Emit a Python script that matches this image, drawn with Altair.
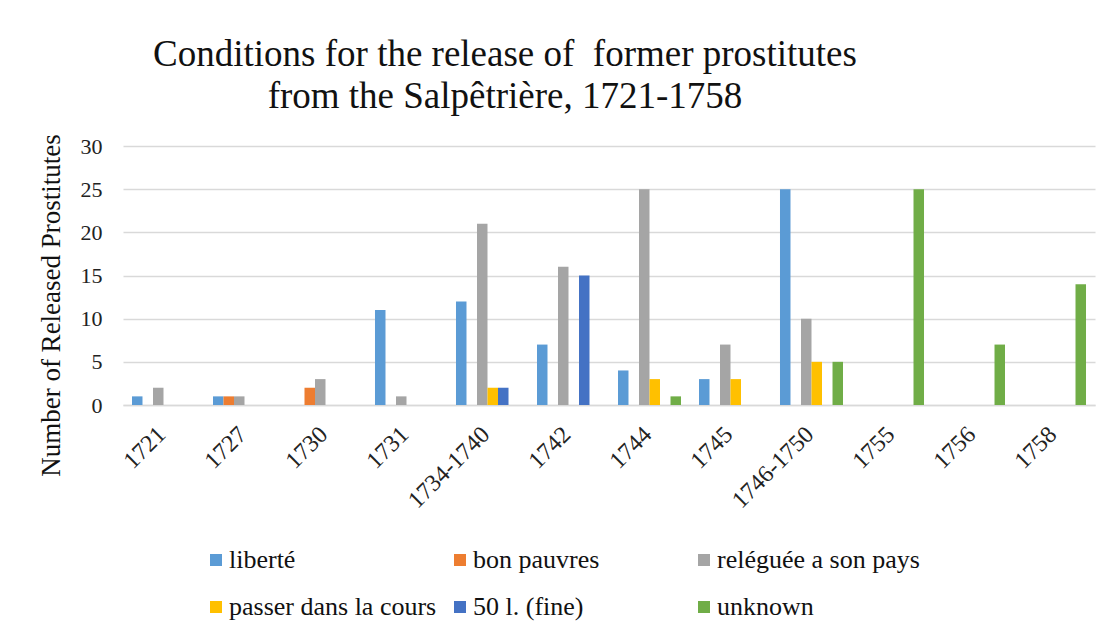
import altair as alt
import pandas as pd

categories = ["1721", "1727", "1730", "1731", "1734-1740", "1742", "1744",
              "1745", "1746-1750", "1755", "1756", "1758"]
series = ["liberté", "bon pauvres", "reléguée a son pays",
          "passer dans la cours", "50 l. (fine)", "unknown"]
colors = ["#5B9BD5", "#ED7D31", "#A5A5A5", "#FFC000", "#4472C4", "#70AD47"]

liberte =   [1, 1, 0, 11, 12, 7, 4, 3, 25, 0, 0, 0]
bon =       [0, 1, 2, 0, 0, 0, 0, 0, 0, 0, 0, 0]
releguee =  [2, 1, 3, 1, 21, 16, 25, 7, 10, 0, 0, 0]
passer =    [0, 0, 0, 0, 2, 0, 3, 3, 5, 0, 0, 0]
fine =      [0, 0, 0, 0, 2, 15, 0, 0, 0, 0, 0, 0]
unknown =   [0, 0, 0, 0, 0, 0, 1, 0, 5, 25, 7, 14]

values = [liberte, bon, releguee, passer, fine, unknown]
rows = []
for s, vals in zip(series, values):
    for c, v in zip(categories, vals):
        if v:
            rows.append({"year": c, "condition": s, "count": v})
df = pd.DataFrame(rows)

FONT = "Liberation Serif"

chart = alt.Chart(df).mark_bar().encode(
    x=alt.X("year:N", sort=categories,
            scale=alt.Scale(domain=categories, paddingInner=0.222, paddingOuter=0.111),
            axis=alt.Axis(title=None, labelAngle=-45, labelFontSize=24, labelFont=FONT,
                          labelColor="#222222", ticks=False, domainColor="#D9D9D9",
                          domainWidth=1.5, labelPadding=17, labelOffset=-10, grid=False)),
    xOffset=alt.XOffset("condition:N", sort=series,
                        scale=alt.Scale(domain=series, paddingInner=0, paddingOuter=0)),
    y=alt.Y("count:Q", scale=alt.Scale(domain=[0, 30]),
            axis=alt.Axis(title="Number of Released Prostitutes", values=[0, 5, 10, 15, 20, 25, 30],
                          titleFont=FONT, titleFontSize=27, titleFontWeight="normal",
                          titleColor="#111111", titleX=-58, titleY=159,
                          labelFont=FONT, labelFontSize=22, labelColor="#222222",
                          labelPadding=21, ticks=False, domain=False,
                          gridColor="#D9D9D9", gridWidth=1.5)),
    color=alt.Color("condition:N", sort=series,
                    scale=alt.Scale(domain=series, range=colors),
                    legend=alt.Legend(title=None, orient="none", legendX=80, legendY=401,
                                      columns=3, direction="horizontal", gridAlign="all",
                                      symbolType="square", symbolSize=144, symbolStrokeWidth=0,
                                      labelFont=FONT, labelFontSize=26, labelColor="#111111",
                                      labelLimit=400, labelOffset=0, columnPadding=10,
                                      rowPadding=21, padding=0)),
).properties(
    width=972,
    height=259,
    title=alt.TitleParams(
        text=["Conditions for the release of \u00a0former prostitutes",
              "from the Salpêtrière, 1721-1758"],
        font=FONT, fontSize=37, fontWeight="normal", color="#111111",
        anchor="middle", dx=-104, offset=18, lineHeight=42),
    autosize=alt.AutoSizeParams(type="none"),
    padding={"left": 115, "top": 138, "right": 8, "bottom": 218},
).configure(font=FONT).configure_view(stroke=None)

chart.save("out.html", embed_options={"renderer": "svg", "actions": False})
